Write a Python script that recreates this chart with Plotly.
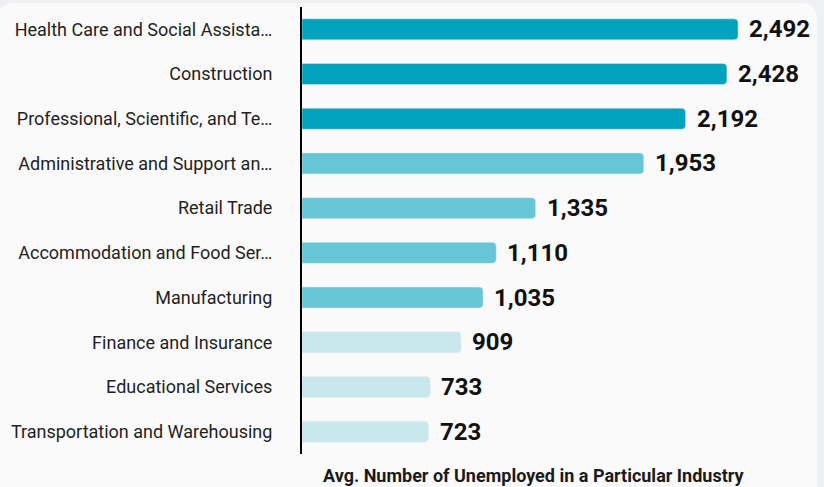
import plotly.graph_objects as go

industries = [
    "Health Care and Social Assista…",
    "Construction",
    "Professional, Scientific, and Te…",
    "Administrative and Support an…",
    "Retail Trade",
    "Accommodation and Food Ser…",
    "Manufacturing",
    "Finance and Insurance",
    "Educational Services",
    "Transportation and Warehousing",
]
unemployed = [2492, 2428, 2192, 1953, 1335, 1110, 1035, 909, 733, 723]
tiers = ["high", "high", "high", "mid", "mid", "mid", "mid", "low", "low", "low"]

tier_colors = {"high": "#00A2BD", "mid": "#66C6D6", "low": "#C8E8EE"}

W, H = 824, 487
L, R, T, B = 302, 20, 7, 33
pw, ph = W - L - R, H - T - B


def px_x(x):
    return (x - L) / pw


def px_y(y):
    return (H - B - y) / ph


fig = go.Figure()
fig.add_trace(go.Bar(
    x=unemployed,
    y=industries,
    orientation="h",
    marker=dict(color=[tier_colors[t] for t in tiers], cornerradius=4),
    width=0.47,
    hoverinfo="x+y",
))

# value labels to the right of each bar
for name, val in zip(industries, unemployed):
    fig.add_annotation(
        x=val, y=name, text=f"{val:,}", showarrow=False,
        xanchor="left", xshift=9,
        font=dict(family="Roboto", size=24, color="#111111", weight="bold"),
    )

fig.add_annotation(
    x=px_x(533), y=px_y(475), xref="paper", yref="paper",
    xanchor="center", yanchor="middle",
    text="<b>Avg. Number of Unemployed in a Particular Industry</b>",
    showarrow=False, font=dict(family="Roboto", size=18, color="#1a1a1a"),
)

# card background with rounded corners
x0, x1, y0, y1, r = px_x(-2), px_x(817), px_y(3), px_y(500), 16
rx, ry = r / pw, r / ph
card = (f"M {x0+rx} {y0} L {x1-rx} {y0} Q {x1} {y0} {x1} {y0-ry} "
        f"L {x1} {y1} L {x0} {y1} L {x0} {y0-ry} Q {x0} {y0} {x0+rx} {y0} Z")
fig.add_shape(type="path", path=card, xref="paper", yref="paper",
              fillcolor="#FAFAFA", line=dict(width=0), layer="below")

fig.update_layout(
    width=W, height=H,
    margin=dict(l=L, r=R, t=T, b=B),
    paper_bgcolor="#EEF0F3",
    plot_bgcolor="rgba(0,0,0,0)",
    showlegend=False,
    font=dict(family="Roboto", color="#1f1f1f"),
    xaxis=dict(range=[0, pw / 0.175], showgrid=False, zeroline=False,
               showticklabels=False, ticks=""),
    yaxis=dict(autorange="reversed", showgrid=False, zeroline=False,
               showline=True, linecolor="#000000", linewidth=2,
               ticks="", ticklabelstandoff=24,
               tickfont=dict(family="Roboto", size=18, color="#1f1f1f")),
)

fig.write_html("out.html", config={"displayModeBar": False},
               post_script="document.body.style.margin='0';")
